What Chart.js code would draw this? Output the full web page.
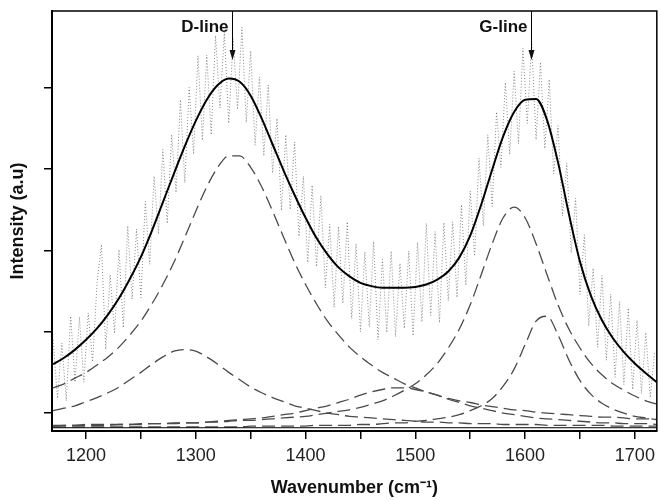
<!DOCTYPE html>
<html>
<head>
<meta charset="utf-8">
<script src="https://cdn.jsdelivr.net/npm/chart.js@4.4.0/dist/chart.umd.min.js"></script>
<style>
  html, body { margin: 0; padding: 0; background: #fff; }
</style>
</head>
<body>
<canvas id="raman" width="661" height="501"></canvas>
<script>
// wavenumber grid of the fitted curves (cm-1)
var wavenumber = [1170,1180,1190,1200,1210,1220,1230,1240,1250,1260,1270,1280,1290,1300,1310,1320,1330,1340,1350,1360,
  1370,1380,1390,1400,1410,1420,1430,1440,1450,1460,1470,1480,1490,1500,1510,1520,1530,1540,1550,1560,
  1570,1580,1590,1600,1610,1620,1630,1640,1650,1660,1670,1680,1690,1700,1710,1720];

// cumulative fit (solid line)
var fitCurve = [0.78,0.86,0.96,1.08,1.22,1.39,1.59,1.83,2.10,2.42,2.77,3.12,3.46,3.77,4.03,4.21,4.29,4.25,4.08,3.80,
  3.48,3.16,2.86,2.58,2.33,2.13,1.97,1.86,1.78,1.74,1.72,1.72,1.72,1.73,1.76,1.82,1.92,2.09,2.36,2.74,
  3.17,3.58,3.88,4.03,4.04,3.78,3.26,2.62,2.04,1.62,1.32,1.10,0.93,0.79,0.67,0.56];

// fitted components (dashed)
var dLarge = [0.49,0.54,0.61,0.68,0.77,0.87,0.99,1.14,1.31,1.52,1.76,2.03,2.34,2.66,2.96,3.20,3.34,3.34,3.20,2.96,
  2.66,2.34,2.03,1.76,1.52,1.31,1.14,0.99,0.87,0.77,0.68,0.61,0.54,0.49,0.44,0.40,0.36,0.33,0.31,0.28,
  0.26,0.24,0.22,0.21,0.19,0.18,0.17,0.16,0.15,0.14,0.13,0.13,0.12,0.11,0.11,0.10];
var dSmall = [0.21,0.24,0.27,0.32,0.37,0.43,0.50,0.59,0.68,0.78,0.87,0.94,0.96,0.94,0.87,0.78,0.68,0.59,0.50,0.43,
  0.37,0.32,0.27,0.24,0.21,0.18,0.16,0.14,0.13,0.12,0.11,0.10,0.09,0.08,0.07,0.07,0.06,0.06,0.05,0.05,
  0.05,0.04,0.04,0.04,0.04,0.03,0.03,0.03,0.03,0.03,0.03,0.02,0.02,0.02,0.02,0.02];
var broadBand = [0.02,0.03,0.03,0.03,0.03,0.03,0.04,0.04,0.04,0.05,0.05,0.05,0.06,0.06,0.07,0.08,0.09,0.10,0.11,0.12,
  0.14,0.16,0.18,0.21,0.24,0.27,0.31,0.35,0.40,0.44,0.47,0.49,0.49,0.47,0.44,0.40,0.35,0.31,0.27,0.24,
  0.21,0.18,0.16,0.14,0.12,0.11,0.10,0.09,0.08,0.07,0.06,0.06,0.05,0.05,0.05,0.04];
var gLarge = [0.03,0.03,0.03,0.04,0.04,0.04,0.04,0.04,0.05,0.05,0.05,0.06,0.06,0.06,0.07,0.07,0.08,0.09,0.09,0.10,
  0.11,0.12,0.13,0.14,0.16,0.18,0.20,0.22,0.25,0.29,0.33,0.39,0.46,0.54,0.65,0.79,0.98,1.21,1.51,1.88,
  2.26,2.58,2.71,2.58,2.26,1.88,1.51,1.21,0.98,0.79,0.65,0.54,0.46,0.39,0.33,0.29];
var gSmall = [0.01,0.01,0.01,0.01,0.01,0.01,0.01,0.01,0.01,0.01,0.01,0.01,0.01,0.01,0.01,0.01,0.01,0.01,0.02,0.02,
  0.02,0.02,0.02,0.02,0.03,0.03,0.03,0.03,0.04,0.04,0.05,0.06,0.06,0.08,0.09,0.11,0.13,0.16,0.21,0.27,
  0.36,0.51,0.72,1.02,1.31,1.37,1.14,0.83,0.58,0.41,0.30,0.23,0.18,0.14,0.12,0.10];

var baseX = [1170, 1720];
var baseY = [0, 0];

// measured spectrum (dotted, noisy)
var rawX = [1170,1174,1178,1182,1186,1190,1194,1198,1202,1206,1210,1214,1218,1222,1226,1230,1234,1238,1242,1246,
  1250,1254,1258,1262,1266,1270,1274,1278,1282,1286,1290,1294,1298,1302,1306,1310,1314,1318,1322,1326,
  1330,1334,1338,1342,1346,1350,1354,1358,1362,1366,1370,1374,1378,1382,1386,1390,1394,1398,1402,1406,
  1410,1414,1418,1422,1426,1430,1434,1438,1442,1446,1450,1454,1458,1462,1466,1470,1474,1478,1482,1486,
  1490,1494,1498,1502,1506,1510,1514,1518,1522,1526,1530,1534,1538,1542,1546,1550,1554,1558,1562,1566,
  1570,1574,1578,1582,1586,1590,1594,1598,1602,1606,1610,1614,1618,1622,1626,1630,1634,1638,1642,1646,
  1650,1654,1658,1662,1666,1670,1674,1678,1682,1686,1690,1694,1698,1702,1706,1710,1714,1718];
var rawY = [1.08,0.36,1.04,0.33,1.37,0.56,1.36,0.56,1.41,0.81,
  1.77,2.25,0.96,1.88,1.16,2.19,1.23,2.48,1.58,2.44,
  1.60,2.78,2.01,3.09,2.38,3.42,2.51,3.60,2.89,4.03,
  3.01,4.18,3.36,4.57,3.53,4.58,3.60,4.82,3.93,4.86,
  3.74,4.78,3.91,4.92,3.75,4.63,3.47,4.31,3.34,4.21,
  3.13,3.80,2.67,3.60,2.68,3.51,2.35,3.09,2.03,2.98,
  1.98,2.85,1.72,2.50,1.48,2.47,1.53,2.53,1.34,2.26,
  1.18,2.16,1.24,2.29,1.08,2.07,1.17,2.17,1.12,2.02,
  1.22,2.17,1.13,2.28,1.30,2.51,1.38,2.41,1.29,2.52,
  1.56,2.53,1.60,2.74,1.75,2.91,2.11,3.31,2.48,3.60,
  2.72,3.88,3.20,4.24,3.36,4.38,3.49,4.66,3.74,4.74,
  3.54,4.49,3.43,4.28,3.12,3.71,2.60,3.25,2.15,2.82,
  1.64,2.37,1.25,1.96,0.99,1.87,0.83,1.64,0.62,1.55,
  0.53,1.47,0.47,1.32,0.42,1.17,0.37,0.92];

var xTicks = [1200,1250,1300,1350,1400,1450,1500,1550,1600,1650,1700];
var yTicks = [0.18,1.18,2.18,3.18,4.18];

var markerText = ["D-line", "G-line"];
var markerPos = [1333, 1605];

var fonts = '"Liberation Sans", Arial, sans-serif';

function pts(xs, ys) {
  return xs.map(function(x, i) { return { x: x, y: ys[i] }; });
}

function dashed(data) {
  return {
    data: pts(wavenumber, data),
    borderColor: "#4a4a4a",
    borderWidth: 1.3,
    borderDash: [13, 6],
    cubicInterpolationMode: "monotone",
    pointRadius: 0,
    order: 3
  };
}

// frame, arrows and peak labels
var marks = {
  id: "marks",
  afterDatasetsDraw: function(chart) {
    var ctx = chart.ctx, a = chart.chartArea, xs = chart.scales.x;
    ctx.save();
    ctx.strokeStyle = "#000";
    ctx.fillStyle = "#111";
    ctx.lineWidth = 1.5;
    ctx.beginPath();
    ctx.moveTo(a.left, a.top);
    ctx.lineTo(a.right, a.top);
    ctx.lineTo(a.right, a.bottom);
    ctx.stroke();

    ctx.font = "bold 17px " + fonts;
    ctx.textAlign = "right";
    ctx.textBaseline = "middle";
    markerPos.forEach(function(v, i) {
      var px = Math.round(xs.getPixelForValue(v)) + 0.5;
      ctx.lineWidth = 1;
      ctx.beginPath();
      ctx.moveTo(px, a.top);
      ctx.lineTo(px, a.top + 42);
      ctx.stroke();
      ctx.beginPath();
      ctx.moveTo(px - 3, a.top + 39);
      ctx.lineTo(px + 3, a.top + 39);
      ctx.lineTo(px, a.top + 49);
      ctx.closePath();
      ctx.fill();
      ctx.fillText(markerText[i], px - 4, a.top + 16);
    });
    ctx.restore();
  }
};

var ctx = document.getElementById("raman").getContext("2d");
new Chart(ctx, {
  type: "line",
  data: {
    datasets: [
      {
        data: pts(wavenumber, fitCurve),
        borderColor: "#000",
        borderWidth: 2,
        cubicInterpolationMode: "monotone",
        pointRadius: 0,
        order: 1
      },
      dashed(dLarge),
      dashed(dSmall),
      dashed(broadBand),
      dashed(gLarge),
      dashed(gSmall),
      {
        data: pts(baseX, baseY),
        borderColor: "#000",
        borderWidth: 1,
        pointRadius: 0,
        order: 2
      },
      {
        data: pts(rawX, rawY),
        borderColor: "rgba(60,60,60,0.6)",
        borderWidth: 1,
        borderDash: [1, 2],
        tension: 0,
        pointRadius: 0,
        order: 10
      }
    ]
  },
  options: {
    responsive: false,
    animation: false,
    layout: { padding: { top: 11, right: 3, left: 0, bottom: 0 } },
    plugins: { legend: { display: false }, tooltip: { enabled: false } },
    scales: {
      x: {
        type: "linear",
        min: 1169,
        max: 1720,
        afterBuildTicks: function(s) { s.ticks = xTicks.map(function(v) { return { value: v }; }); },
        afterFit: function(s) { s.height = 70; },
        ticks: {
          autoSkip: false,
          maxRotation: 0,
          padding: 6,
          color: "#222",
          font: { family: fonts, size: 18 },
          callback: function(v) { return v % 100 === 0 ? v : ""; }
        },
        grid: { drawOnChartArea: false, tickLength: 8, color: "#000", lineWidth: 1.5 },
        border: { color: "#000", width: 2 },
        title: {
          display: true,
          text: "Wavenumber (cm\u207B\u00B9)",
          color: "#111",
          font: { family: fonts, size: 18, weight: "bold" },
          padding: { top: 0, bottom: 2 }
        }
      },
      y: {
        type: "linear",
        min: -0.04,
        max: 5.12,
        afterBuildTicks: function(s) { s.ticks = yTicks.map(function(v) { return { value: v }; }); },
        afterFit: function(s) { s.width = 52; },
        ticks: { callback: function() { return ""; } },
        grid: { drawOnChartArea: false, tickLength: 8, color: "#000", lineWidth: 1.5 },
        border: { color: "#000", width: 2 },
        title: {
          display: true,
          text: "Intensity (a.u)",
          color: "#111",
          font: { family: fonts, size: 18, weight: "bold" },
          padding: { top: 7, bottom: 0 }
        }
      }
    }
  },
  plugins: [marks]
});
</script>
</body>
</html>
